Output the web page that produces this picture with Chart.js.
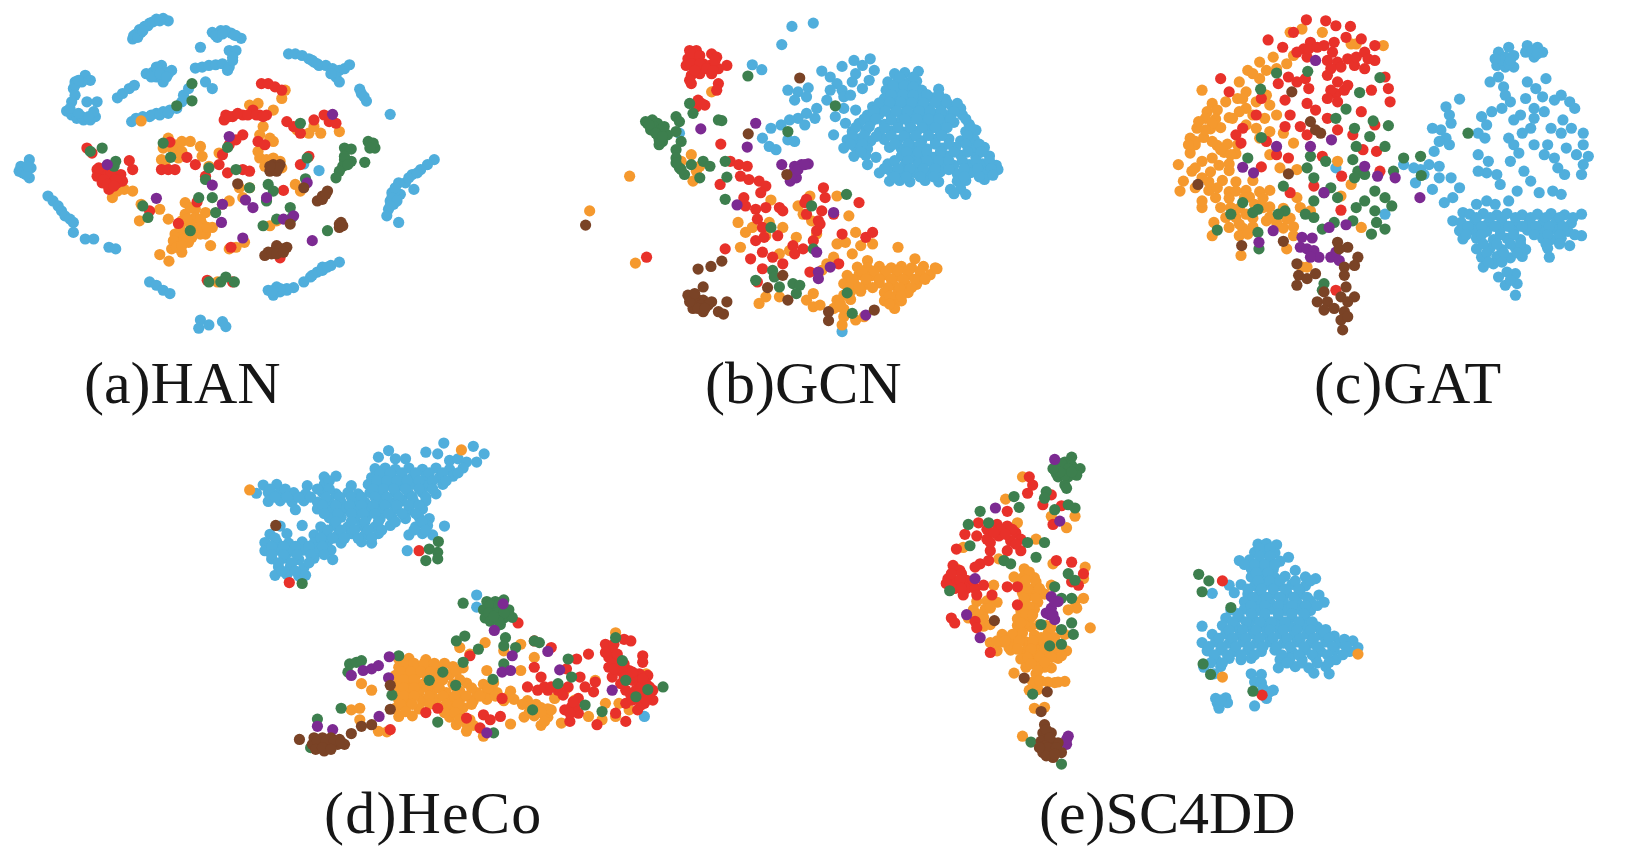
<!DOCTYPE html>
<html><head><meta charset="utf-8">
<script src="https://cdn.jsdelivr.net/npm/chart.js@4"></script>
<style>
html,body{margin:0;padding:0;background:#fff;width:1628px;height:850px;overflow:hidden}
.p{position:absolute}
.p canvas{filter:blur(0.7px)}
.t{position:absolute;font-family:"Liberation Serif",serif;font-size:60px;line-height:60px;color:#161616;white-space:nowrap}
</style></head><body>
<script>
const titles=["(a)HAN","(b)GCN","(c)GAT","(d)HeCo","(e)SC4DD"];
const seriesNames=["blue","orange","red","green","purple","brown"];
const seriesColors=["#50aedc","#f5992e","#e8312a","#3d7f4e","#7c2a92","#7a4326"];

const aBlue=[40,510,45,495,375,110,385,95,395,82,410,72,425,62,445,50,465,48,480,55,378,100,400,90,420,70,390,105,405,85,435,58,455,55,610,90,625,105,635,85,650,85,665,92,680,100,695,108,620,100,640,95,675,98,575,135,660,145,680,145,670,165,560,198,580,195,600,190,620,188,640,185,660,195,670,175,655,205,835,155,855,155,875,160,895,170,910,180,925,190,945,190,965,200,985,205,1000,200,1015,188,975,225,985,240,960,215,905,175,920,185,1045,262,1050,275,1058,285,1065,298,1135,338,205,240,235,220,250,235,225,240,200,260,205,280,195,300,240,300,270,300,205,250,215,235,180,328,195,340,210,350,230,355,250,355,265,345,260,330,190,320,225,345,245,345,215,335,330,288,345,275,365,260,380,250,415,215,435,210,460,190,490,205,445,225,465,240,470,210,450,205,480,215,430,225,445,195,455,215,475,225,372,360,385,350,405,345,425,345,445,335,465,330,485,325,505,320,520,300,525,280,540,260,430,340,455,340,480,335,590,240,610,260,70,475,55,510,70,530,75,500,50,515,60,520,65,495,125,585,140,600,155,615,165,630,175,645,190,655,200,665,200,695,235,715,260,715,305,740,325,745,425,845,445,855,465,870,485,880,575,960,570,985,600,975,640,965,650,980,775,870,790,885,810,875,830,865,850,862,880,845,900,830,920,815,935,800,960,795,985,785,800,860,830,870,810,865,790,870,785,875,905,825,935,810,950,800,1265,475,1245,490,1225,505,1200,520,1180,545,1160,545,1140,575,1135,600,1130,625,1125,645,1160,665,1205,565,1165,580,1150,590,1145,610,1150,560,1140,590,1155,600,1135,615,1190,530,1215,515,925,508,880,488];
const aOrange=[815,290,825,265,720,310,745,305,790,325,760,375,895,395,930,395,985,390,860,385,910,375,480,410,500,430,520,420,545,420,465,440,500,455,520,450,460,475,470,430,490,440,510,470,470,490,575,435,580,465,600,495,630,455,750,470,770,475,790,470,810,480,765,495,815,500,780,410,750,400,790,420,745,450,790,480,780,485,855,550,870,570,330,570,350,565,375,570,315,590,400,610,455,625,395,660,480,655,660,600,640,610,720,560,690,560,700,590,530,605,560,625,530,640,560,650,590,635,520,660,545,670,580,670,610,680,500,700,530,700,560,695,590,700,510,725,540,725,490,745,520,755,575,700,545,620,575,655,535,655,515,680,550,685,570,680,595,680,525,715,495,720,505,740,550,710,520,735,605,735,455,762,482,782,625,845,680,740,705,725,660,745,780,675,800,660,400,358];
const aRed=[755,245,775,245,795,255,815,265,650,340,670,345,700,340,730,325,750,340,770,340,645,355,660,345,685,335,715,340,740,340,760,345,830,360,850,375,870,395,910,355,940,340,955,360,975,365,240,440,255,455,270,505,285,510,300,530,320,520,340,520,345,540,270,525,285,545,305,565,310,495,365,478,375,505,330,545,280,520,295,510,310,515,325,535,290,535,275,500,300,550,320,555,485,422,535,468,460,505,480,505,500,505,700,400,680,415,660,430,640,460,745,420,765,430,560,490,590,525,630,490,655,515,700,505,720,510,820,568,565,603,510,668,425,630,665,740,810,772,870,490,895,465,595,840,670,845];
const aGreen=[550,245,550,297,505,312,285,440,250,450,325,480,320,495,870,365,655,438,487,468,465,425,600,500,680,505,590,535,720,560,775,550,790,570,770,600,610,590,570,590,620,635,885,533,890,470,1000,440,1020,443,1080,430,1070,420,1090,440,1085,425,1075,440,1000,475,1020,480,995,495,1060,483,985,510,975,530,1000,465,1010,490,840,620,845,650,800,655,760,675,420,650,405,615,635,845,650,830,600,845,675,845,950,690,545,690];
const aPurple=[965,338,300,490,445,592,708,597,770,590,730,620,660,405,610,552,637,665,640,610,700,712,905,720,820,655,850,645,890,545];
const aBrown=[790,490,810,490,780,510,800,510,790,500,805,500,780,495,685,548,880,560,950,570,935,585,920,600,935,595,945,580,990,665,985,680,985,670,995,675,815,745,795,750,775,755,830,740,765,765,800,735,810,745,785,760,800,760,820,755,840,670];

const bBlue=[727,72,790,62,697,127,610,188,638,203,815,207,875,193,910,175,958,170,935,190,970,205,915,215,905,240,935,260,955,235,840,225,860,245,875,265,840,265,715,265,745,270,775,258,770,285,735,295,830,295,800,320,770,335,745,350,720,355,695,370,765,370,795,350,880,285,900,280,880,320,915,325,855,345,885,365,850,400,665,380,640,410,660,435,680,445,715,415,735,420,1030,215,1060,212,1100,208,1010,240,1040,238,1070,242,1095,238,1005,265,1040,262,1075,268,1110,265,1160,262,1000,290,1030,288,1060,292,1100,290,1140,288,1180,292,965,315,995,318,1030,312,1065,316,1095,314,1130,318,1165,312,1200,316,1225,320,950,340,985,338,1020,342,1050,338,1085,342,1120,340,1150,338,1185,342,1230,340,925,365,960,362,1000,368,1040,364,1075,366,1110,362,1140,368,1170,364,1205,362,1250,368,905,390,945,388,985,392,1020,388,1060,392,1095,390,1130,388,1165,392,1240,390,1270,386,890,415,925,412,960,418,1000,414,1040,416,1075,412,1110,418,1150,414,1190,412,1225,418,1265,414,880,440,915,438,950,442,1015,438,1050,442,1090,438,1125,442,1170,440,1210,438,1260,442,1295,438,910,465,945,462,975,468,1050,464,1085,466,1110,462,1145,468,1185,464,1225,462,1270,468,1310,464,950,490,1010,488,1060,492,1100,488,1145,492,1175,488,1205,492,1250,490,1290,488,1330,492,985,515,1020,512,1055,518,1090,514,1130,516,1165,512,1215,518,1255,514,1300,512,1335,505,1015,540,1045,538,1075,542,1120,538,1160,542,1215,540,1240,538,1295,535,1195,565,1225,563,1205,578,1240,580,395,395,875,995];
const bBlueExtra=[1045,225,1085,225,1025,252,1058,252,1085,255,1020,278,1055,278,1085,280,1125,278,1160,278,985,303,1015,302,1048,302,1080,303,1115,303,1150,302,1185,303,1215,305,970,328,1003,328,1035,328,1068,328,1103,328,1135,328,1168,328,1205,330,940,352,975,352,1020,355,1060,352,1095,352,1130,352,1160,352,1195,352,1240,352,915,378,955,376,1000,380,1040,378,1078,378,1112,378,1150,378,1185,378,1255,378,905,403,940,402,975,405,1020,402,1058,404,1092,402,1130,402,1170,402,1245,402,900,428,935,428,1030,428,1070,428,1105,428,1150,428,1190,428,1240,428,1280,428,930,452,1065,452,1100,452,1125,452,1165,452,1205,452,1245,452,1285,452,1030,478,1070,478,1125,478,1160,478,1190,478,1230,478,1270,478,1310,478,1000,502,1040,502,1075,502,1115,502,1150,502,1190,505,1235,502,1275,502,1315,502,1030,527,1065,527,1105,527,1145,527,1235,527,1280,527,1320,522];
const bOrange=[248,525,130,630,265,788,1040,740,568,665,590,695,610,680,575,740,660,665,650,705,700,680,740,710,720,750,690,760,745,615,760,640,780,585,860,585,895,645,800,700,785,660,665,597,860,730,885,725,915,695,930,735,965,730,905,760,950,780,830,790,850,770,815,810,790,880,770,900,790,920,810,915,630,910,650,890,690,890,880,950,875,975,915,960,940,950,860,920,430,460,400,480,445,510,435,540,455,495,490,270,1090,775,920,800,950,803,985,798,1020,802,1050,798,1080,802,1115,798,1150,802,890,825,925,823,960,827,1000,823,1035,827,1070,823,1105,827,1135,823,1155,805,880,850,910,848,945,852,985,848,1025,852,1060,848,1095,852,900,875,930,873,1000,877,1040,873,1070,877,860,900,900,898,1000,902,1035,898,1050,902,850,925,880,927,1030,925];
const bOrangeExtra=[935,815,970,812,1005,812,1040,812,1070,812,1105,812,905,837,945,837,985,837,1020,837,1055,837,1090,837,1120,837,895,862,925,862,965,862,1010,862,1045,862,1080,862,880,885,1015,888,1050,888,870,912,1015,912];
const bRed=[425,145,445,145,420,170,445,170,415,190,440,195,465,185,490,155,505,165,485,190,510,200,535,190,430,220,455,215,430,245,490,215,510,245,505,265,430,155,455,160,430,185,455,185,475,200,495,205,440,205,425,235,500,175,450,295,470,310,445,315,460,305,517,428,545,480,570,490,595,495,575,525,600,535,630,540,650,555,515,550,585,590,635,575,590,615,620,625,650,620,690,620,700,630,625,655,640,680,770,595,765,605,820,560,825,590,815,630,770,640,805,660,850,640,925,605,875,700,945,710,965,695,800,690,810,670,620,720,645,710,685,705,790,720,730,735,735,760,760,745,640,755,670,770,605,775,530,745,700,790,865,790,780,815,640,805,625,845,298,770];
const bGreen=[597,222,855,312,715,390,425,305,435,335,295,360,315,355,330,365,310,385,330,400,345,420,335,430,360,400,300,365,320,375,340,385,335,415,350,375,305,370,325,395,345,405,385,345,395,360,385,390,400,420,385,445,385,470,395,500,410,520,400,505,385,485,430,490,465,480,485,495,455,530,510,355,520,357,530,480,535,528,530,595,888,580,785,615,665,680,790,745,670,810,620,840,675,830,690,860,730,850,750,855,740,880,890,878,905,940];
const bPurple=[620,365,458,382,595,437,697,490,775,488,755,490,735,495,730,515,722,540,740,530,725,525,745,505,765,490,565,612,850,635,800,755,805,815,805,835,840,800,945,945];
const bBrown=[750,228,598,397,118,673,450,806,488,798,520,782,465,860,420,885,445,895,465,900,490,905,435,925,465,935,445,910,460,915,480,915,450,925,470,925,425,905,440,880,535,905,510,935,525,942,700,825,655,862,715,900,835,935,835,962,970,930,712,520];

const cBlue=[1225,135,1195,150,1215,165,1240,160,1190,190,1215,195,1240,195,1170,240,1195,225,1280,130,1310,135,1325,150,1300,165,1275,150,1295,145,1310,155,1205,175,1225,185,1335,230,1280,240,1305,260,1325,285,1210,255,1215,280,1230,300,1205,320,1175,330,1145,345,1160,370,1135,395,1155,410,1080,292,1040,315,1050,340,1055,365,1000,380,1025,385,1040,410,1020,420,1050,430,1005,450,1275,290,1300,320,1260,340,1300,350,1330,330,1380,280,1360,295,1405,300,1420,320,1385,355,1410,380,1380,395,1445,395,1240,355,1290,380,1265,395,1225,410,1240,430,1255,455,1230,480,1350,380,1340,430,1395,440,1445,430,1425,460,1460,465,1445,490,1360,470,1370,500,1390,520,1440,520,1300,430,1330,460,1270,510,1290,540,1315,575,1355,570,1380,580,1135,460,1165,480,1160,515,1190,520,1200,550,1135,510,1250,570,1225,600,1185,610,1160,600,1130,610,1090,635,1060,660,1035,605,1080,560,1060,590,1110,640,1150,638,1190,642,1220,638,1265,642,1310,640,1350,638,1390,642,1440,640,1085,665,1125,663,1165,667,1205,663,1245,667,1285,663,1325,667,1365,663,1410,667,1080,690,1120,688,1160,692,1200,688,1240,692,1280,688,1320,692,1365,688,1400,692,1440,705,1090,715,1130,713,1180,717,1220,713,1260,717,1325,713,1350,717,1380,713,1130,745,1170,743,1205,747,1245,743,1275,747,1340,743,1405,735,1145,770,1190,768,1230,772,1265,768,1345,770,1150,800,1180,790,1195,830,1245,820,1215,855,1250,850,1245,885,915,490,945,500,965,505,990,490,975,520,950,545,1020,495,1020,530,1000,565,1055,530,715,500,860,640];
const cBlueExtra=[1130,650,1170,650,1205,650,1245,650,1290,650,1335,650,1375,650,1415,650,1105,677,1145,677,1185,677,1225,677,1265,677,1305,677,1345,677,1385,677,1100,702,1145,702,1200,702,1240,702,1300,702,1340,702,1375,702,1420,702,1150,730,1190,730,1230,730,1260,730,1335,730,1375,730,1160,757,1210,757,1250,757,1165,785,1205,785,1220,815,1230,840,1185,170,1230,175];
const cOrange=[320,265,350,305,335,330,365,325,390,300,430,240,455,205,490,180,530,165,580,90,615,80,675,90,855,130,775,125,760,125,330,350,360,352,400,348,305,380,345,382,375,378,285,410,325,408,300,430,365,432,395,428,285,455,385,453,420,457,250,490,370,492,400,488,290,510,345,512,400,508,265,540,340,542,380,538,420,542,470,538,255,570,340,568,400,572,450,568,490,572,520,568,360,590,400,592,460,588,500,592,600,590,320,620,430,622,520,618,560,622,640,630,355,665,420,650,470,652,520,648,580,652,400,680,440,682,470,678,560,682,590,678,350,705,430,705,590,705,480,300,510,280,520,310,540,340,505,350,480,380,450,320,425,290,470,340,520,390,490,410,560,395,590,425,600,505,540,200,570,185,590,160,450,270,520,460,550,500,730,585,790,680,615,800,630,800,435,765,570,745,760,550,720,480,310,360,350,365,330,385,300,420,280,430,350,420,375,445,350,470,320,480,300,500,320,530,300,560,365,560,320,600,420,570,445,590,475,610,500,620,405,620,375,620,390,650,450,640,510,660,540,665,430,670,455,700,570,655,610,620,430,330,410,350,450,370,425,430,405,460,440,290,490,230,470,215,510,205];
const cRed=[515,113,628,52,685,55,715,70,758,72,558,135,590,90,620,140,640,120,680,130,710,120,745,105,790,110,830,130,800,150,830,175,630,165,690,175,720,180,750,170,770,190,800,200,635,140,705,150,730,195,775,165,810,170,700,200,715,275,740,265,600,150,660,135,545,245,575,225,600,240,625,230,690,220,720,240,750,250,700,265,690,290,720,300,860,225,870,260,820,265,875,300,375,230,400,270,495,290,565,295,635,260,630,305,655,325,580,340,480,340,690,350,790,330,830,370,440,380,420,400,435,425,565,375,610,375,630,400,510,420,540,460,575,470,495,497,650,555,675,465,732,525,580,575,845,510,730,628,835,450,795,445,765,400,720,385,715,870];
const cGreen=[540,213,632,208,493,262,845,227,785,272,745,322,715,350,825,358,870,372,770,380,815,405,860,435,775,435,640,465,455,470,495,408,630,500,650,530,685,480,765,475,780,510,770,530,800,520,885,510,560,555,700,560,680,575,650,600,720,590,830,570,860,590,880,615,800,600,830,630,835,665,820,700,860,685,775,620,710,665,765,660,675,685,485,625,470,635,565,630,440,605,405,640,545,640,625,640,650,650,365,688,485,695,488,745,680,850,675,870,967,523,1105,395,915,470,965,465];
const cPurple=[655,175,540,435,640,435,702,415,440,498,472,515,800,495,838,525,890,530,680,575,695,680,745,672,530,690,488,725,963,590,615,710,645,712,610,740,630,745,650,750,665,770,640,770,700,770,715,755,725,780];
const cBrown=[585,270,640,360,655,385,670,395,308,550,575,518,437,735,560,722,720,725,750,740,725,745,780,770,600,790,605,825,630,835,600,855,655,820,740,800,770,795,740,825,680,875,745,860,770,890,660,905,690,905,730,890,750,905,680,930,710,925,740,935,730,960,750,950,735,990];

const dBlue=[703,47,790,57,822,80,650,75,685,80,540,70,510,90,590,95,560,95,720,100,745,95,770,105,800,105,500,125,530,123,560,127,600,123,640,127,680,123,720,127,760,123,350,150,385,148,490,152,520,148,550,152,580,148,610,152,650,148,690,152,730,148,170,175,210,173,300,177,350,173,430,177,480,173,510,177,540,173,570,177,610,173,650,177,700,173,150,200,185,198,215,202,260,198,295,202,345,198,385,202,420,198,450,202,485,198,520,202,560,198,600,202,640,198,680,202,185,225,220,223,255,227,290,223,330,227,365,223,400,227,435,223,470,227,510,223,545,227,580,223,615,227,650,223,265,250,330,248,370,252,410,248,445,252,480,248,520,252,560,248,600,252,640,248,365,275,400,273,440,277,475,273,515,277,550,273,590,277,630,273,660,277,220,300,285,298,340,302,380,298,420,302,460,298,500,302,545,298,620,302,655,298,705,300,190,325,240,323,320,327,350,323,390,327,430,323,470,327,510,323,600,327,640,323,670,327,175,350,210,348,245,352,285,348,320,352,360,348,400,352,460,348,490,352,175,375,210,373,250,377,290,373,330,377,370,373,595,375,195,400,235,398,275,402,320,398,375,402,215,425,250,423,290,427,205,450,240,448,275,452,295,450,800,510,800,547,1295,880];
const dBlueExtra=[515,138,545,138,580,138,620,138,660,138,700,138,745,138,365,162,505,162,535,162,565,162,595,162,630,162,670,162,710,162,190,187,235,187,330,187,365,187,495,187,525,187,555,187,590,187,630,187,670,187,205,212,240,212,275,212,310,212,355,212,395,212,430,212,460,212,500,212,535,212,570,212,610,212,650,212,345,237,385,237,425,237,460,237,495,237,530,237,565,237,600,237,630,237,350,262,390,262,430,262,465,262,500,262,540,262,580,262,620,262,385,287,430,287,470,287,510,287,560,287,640,287,360,312,400,312,440,312,480,312,520,312,615,312,650,312,205,337,340,337,375,337,410,337,450,337,490,337,195,362,230,362,265,362,305,362,345,362,195,387,230,387,270,387,310,387,350,387,215,412,255,412,305,412,225,437,265,437];
const dOrange=[130,190,755,68,570,705,600,703,650,707,570,730,600,728,630,732,660,728,690,732,730,728,760,732,560,755,590,753,620,757,650,753,680,757,720,753,570,780,600,778,640,782,680,778,730,782,770,778,820,782,850,778,570,805,600,803,630,807,670,803,710,807,750,803,800,807,830,803,860,807,900,803,570,830,600,828,640,832,680,828,720,832,750,828,790,832,830,828,880,832,910,828,950,832,560,855,590,853,630,857,690,853,730,857,760,853,960,857,990,853,1010,857,570,880,610,878,720,882,750,878,940,882,970,878,1010,882,740,905,770,903,790,907,900,903,990,907,510,925,535,927,770,925,820,940,930,660,880,680,825,655,750,670,780,690,930,740,830,740,970,700,460,780,490,800,430,860,455,855,455,890,1060,800,1150,770,1210,625,1300,750,1180,840,1220,840,1030,825,1210,880,1250,860,1170,890,1130,880,1090,830,1050,900,1020,860];
const dOrangeExtra=[585,718,615,718,645,718,675,718,705,718,575,743,605,743,635,743,665,743,700,743,740,743,585,768,615,768,655,768,700,768,750,768,585,793,615,793,655,793,690,793,740,793,785,793,835,793,585,818,615,818,660,818,700,818,735,818,770,818,810,818,855,818,895,818,575,843,610,843,660,843,710,843,745,843,785,843,935,843,975,843,590,865,705,868,735,868,955,868,990,868,750,890,780,890,1000,895];
const dRed=[247,472,630,375,922,595,970,650,1020,670,970,730,990,760,950,790,980,800,1010,800,1040,800,1070,790,1105,760,1065,735,1095,705,1130,690,1180,660,1205,660,1235,645,1255,650,1190,700,1215,710,1290,695,1290,715,1190,730,1220,740,1250,740,1280,750,1305,755,1200,760,1150,775,1145,805,1275,770,1300,780,1320,800,1320,830,1295,840,1270,800,1240,800,1275,860,1240,840,1100,825,1080,850,1060,860,1100,870,1075,895,1210,870,1155,905,1240,895,650,868,685,855,770,885,820,875,870,880,840,890,810,915,545,920,780,695,875,825,1200,680,1215,690,1200,720,1235,760,1260,770,1285,790,1295,810,1310,810,1260,830,1280,820,1260,760,1285,845,1090,850,1075,870,1000,790,1020,790,1180,685,1205,735,1235,720,1260,745,1290,765,1310,790,1280,810,1300,830,1255,815,1225,780,1085,835,1120,790,1055,815];
const dGreen=[285,475,687,347,660,370,685,380,650,405,685,400,760,535,830,530,855,530,880,525,820,555,845,555,870,550,895,555,825,580,855,580,880,580,905,578,870,600,885,640,840,540,865,540,835,565,860,565,880,565,840,590,865,590,850,575,740,650,765,635,805,675,880,665,915,670,970,650,985,655,425,720,445,715,460,710,420,745,570,695,700,745,660,770,738,785,760,715,880,720,848,767,1070,705,1080,760,1040,780,1230,710,1240,770,1210,640,1305,798,1270,820,1350,790,1170,865,1120,845,400,855,330,888,685,897,850,930,965,860,550,815,310,975];
const dPurple=[878,537,852,618,542,698,490,735,510,725,430,755,465,740,540,762,1010,682,905,695,875,745,900,740,1045,738,1200,800,512,880,330,910,375,920,830,930];
const dBrown=[207,298,545,785,545,858,277,950,460,910,490,905,430,932,320,945,345,945,370,945,395,950,315,965,340,970,365,970,390,965,410,965,350,985,330,955,355,955,380,955,400,958,325,980,345,975,370,980];

const eBlue=[1040,355,1065,353,1095,357,1030,380,1060,378,1090,382,1130,395,985,405,1015,403,1045,407,1075,403,1105,407,1020,430,1050,428,1085,432,1150,435,1020,455,1055,453,1090,457,1120,453,1180,455,1210,460,955,480,990,478,1030,482,1065,478,1100,482,1140,478,1180,482,905,505,970,503,1010,507,1045,503,1085,507,1125,503,1165,507,1220,510,1000,530,1040,528,1075,532,1115,528,1155,532,1195,528,1235,532,960,555,1000,553,1040,557,1080,553,1120,557,1160,553,1195,557,945,580,985,578,1025,582,1060,578,1100,582,1140,578,1180,582,875,605,935,603,975,607,1015,603,1055,607,1095,603,1135,607,1175,603,1215,607,1240,615,905,630,945,628,985,632,1025,628,1065,632,1105,628,1145,632,1185,628,1225,632,1265,635,875,655,915,653,955,657,995,653,1035,657,1075,653,1115,657,1155,653,1195,657,1240,653,1280,657,1320,650,890,680,930,678,970,682,1010,678,1050,682,1090,678,1140,682,1180,678,1225,682,1265,678,1310,682,1335,670,915,705,955,703,990,707,1020,703,1105,707,1135,703,1170,707,1210,703,1270,707,880,730,930,728,1100,732,1150,728,1190,732,1240,728,910,750,1020,750,1050,752,1205,748,1250,750,1030,775,1050,778,1085,800,1055,795,915,825,945,823,1065,825,920,840,950,838,1030,848,925,855,930,830,1075,805];
const eBlueExtra=[1045,368,1075,368,1045,392,1075,392,1000,417,1030,417,1060,417,1090,417,1035,442,1070,442,1040,467,1075,467,1105,467,1150,467,1195,467,1010,492,1050,492,1085,492,1120,492,1160,492,1025,517,1065,517,1105,517,1145,517,1185,517,1020,542,1060,542,1100,542,1140,542,1180,542,1215,542,980,567,1020,567,1060,567,1100,567,1140,567,1175,567,965,592,1005,592,1045,592,1080,592,1120,592,1160,592,1200,592,955,617,995,617,1035,617,1075,617,1115,617,1155,617,1195,617,1235,622,925,642,965,642,1005,642,1045,642,1085,642,1125,642,1165,642,1205,642,1250,642,1295,645,895,667,935,667,975,667,1015,667,1055,667,1095,667,1135,667,1175,667,1215,667,1260,667,1300,667,910,692,950,692,990,692,1030,692,1110,692,1160,692,1200,692,1245,692,1290,692,900,717,935,717,1125,717,1170,717,1215,717,1250,715];
const eOrange=[345,150,295,218,330,290,385,340,435,415,170,365,275,400,150,430,530,425,525,460,525,520,505,550,430,270,500,270,475,305,350,430,320,455,350,453,380,457,260,480,350,478,385,482,430,480,345,505,375,503,410,507,210,530,240,528,270,532,350,528,390,532,500,530,200,555,235,553,340,557,380,553,480,555,185,580,230,578,330,582,370,578,230,605,330,603,370,607,415,603,545,610,285,630,340,628,380,632,420,628,470,630,250,655,285,653,320,657,355,653,390,657,430,653,270,680,310,678,350,682,390,678,440,682,475,680,340,705,375,703,410,707,450,703,355,730,390,728,430,732,320,748,375,775,400,773,440,777,470,773,365,800,390,798,380,855,410,852,345,940,1335,690,935,760,365,440,335,470,400,500,360,515,365,545,355,570,350,600,395,600,430,610,400,640,440,640,310,640,270,650,305,670,365,670,410,660,375,690,420,695,460,695,390,715,410,730,385,750,395,770,420,775,450,775,215,570,250,550,220,585,250,600,355,465,385,470,360,490,395,490,350,520,385,520,375,570,340,595,345,625,315,630,295,650,335,650,375,650,415,640,330,675,370,675,410,675,455,670,360,700,395,700,430,700,370,720,410,715,390,740];
const eRed=[365,150,375,175,360,200,430,205,405,235,460,238,435,295,300,255,215,290,240,310,270,295,300,300,325,320,210,330,240,340,275,330,310,345,340,340,175,325,150,370,300,375,340,375,250,375,220,415,245,405,205,425,445,405,490,410,525,445,510,480,490,470,140,420,160,435,125,460,150,470,180,465,145,490,180,490,205,490,230,480,300,485,330,485,170,510,210,510,255,510,330,540,135,580,145,595,205,590,210,610,250,685,935,467,1052,815,280,310,260,320,315,310,295,325,325,355,250,350,165,445,135,445,160,465,200,465,120,475,165,490];
const eGreen=[490,90,470,105,440,130,465,125,490,115,515,125,450,150,480,150,505,145,470,175,475,185,445,140,460,110,480,125,470,145,455,135,490,135,435,125,320,210,335,243,220,255,245,290,185,295,190,360,360,350,410,350,385,395,290,405,310,415,415,195,410,215,440,250,480,235,500,245,500,465,480,445,440,485,460,520,490,520,400,600,490,595,460,615,495,630,460,660,425,665,375,812,370,958,130,497,460,1025,865,447,895,467,875,500,960,548,878,720,900,752,1025,803];
const ePurple=[440,97,430,515,450,530,430,550,415,565,440,585,440,530,425,570,435,570,265,245,205,460,180,570,220,640,455,285,480,940,475,965,475,950];
const eBrown=[262,588,350,763,418,805,400,865,410,905,405,930,430,930,400,955,430,955,450,960,405,990,430,985,460,990,435,1005,415,920,425,945,410,970,420,975,445,975,415,1000,440,995,395,975];

const panelSeries=[
 [aBlue,aOrange,aRed,aGreen,aPurple,aBrown],
 [bBlue.concat(bBlueExtra),bOrange.concat(bOrangeExtra),bRed,bGreen,bPurple,bBrown],
 [cBlue.concat(cBlueExtra),cOrange,cRed,cGreen,cPurple,cBrown],
 [dBlue.concat(dBlueExtra),dOrange.concat(dOrangeExtra),dRed,dGreen,dPurple,dBrown],
 [eBlue.concat(eBlueExtra),eOrange,eRed,eGreen,ePurple,eBrown]];
const panelBox=[[0,-3,540,400,2.94],[540,-3,540,400,2.94],[1088,-3,540,400,2.94],[200,422,540,430,2.967],[900,422,540,430,2.967]];
const titlePos=[[84,353],[705,353],[1314,353],[324,783],[1039,783]];
const titleSpacing=[0,0,0.8,1.2,0];
const xUnitsPerPx=2.89;

function pairs(f){const o=[];for(let i=0;i<f.length;i+=2)o.push({x:f[i],y:f[i+1]});return o;}
panelSeries.forEach((series,i)=>{
  const [l,t,w,h,yUnits]=panelBox[i];
  const d=document.createElement('div');d.className='p';
  d.style.cssText=`left:${l}px;top:${t}px;width:${w}px;height:${h}px`;
  const c=document.createElement('canvas');c.width=w;c.height=h;c.style.width=w+'px';c.style.height=h+'px';
  d.appendChild(c);document.body.appendChild(d);
  new Chart(c,{type:'scatter',
    data:{datasets:series.map((s,k)=>({label:seriesNames[k],data:pairs(s),
      backgroundColor:seriesColors[k],borderWidth:0,pointRadius:5.6,order:-k}))},
    options:{responsive:false,animation:false,devicePixelRatio:1,
      layout:{padding:0},
      plugins:{legend:{display:false},tooltip:{enabled:false}},
      scales:{x:{display:false,min:0,max:w*xUnitsPerPx},
              y:{display:false,min:0,max:h*yUnits,reverse:true}}}});
  const e=document.createElement('div');e.className='t';e.textContent=titles[i];
  e.style.left=titlePos[i][0]+'px';e.style.top=titlePos[i][1]+'px';e.style.letterSpacing=titleSpacing[i]+'px';
  document.body.appendChild(e);
});
</script>
</body></html>
